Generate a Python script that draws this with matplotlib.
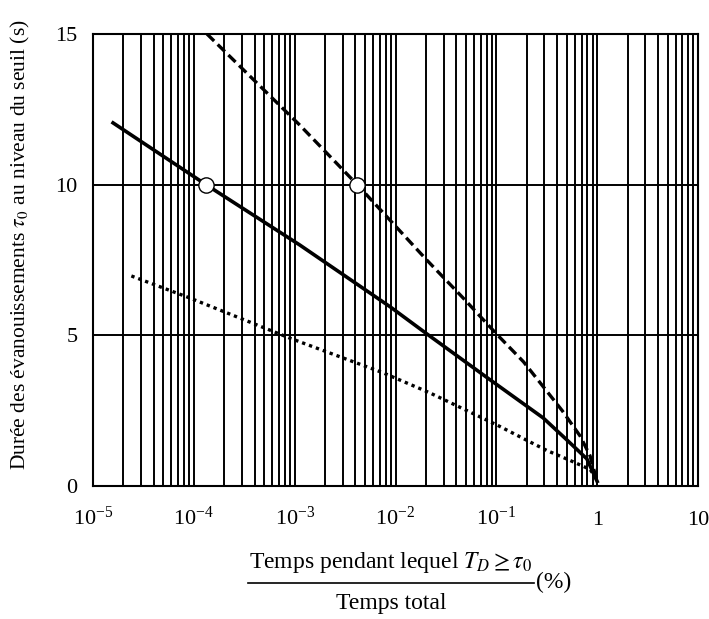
import matplotlib
matplotlib.use("Agg")
import matplotlib.pyplot as plt
from matplotlib.ticker import FixedLocator, LogLocator, NullFormatter
from matplotlib.lines import Line2D
import numpy as np

plt.rcParams['font.family'] = ['Liberation Serif', 'DejaVu Serif']
plt.rcParams['mathtext.fontset'] = 'stix'

# data (x in %, y in s)
solid_x = [1.58e-5, 1.32e-4, 1.12e-3, 8.9e-3, 2.04e-2, 8.7e-2, 0.291, 0.50, 0.79, 1.0]
solid_y = [12.05, 10.0, 8.0, 5.94, 5.05, 3.52, 2.26, 1.53, 0.90, 0.15]

dashed_x = [1.35e-4, 1.12e-3, 4.17e-3, 2.04e-2, 4.9e-2, 0.10, 0.186, 0.291, 0.45, 0.68, 0.85, 1.0]
dashed_y = [15.0, 11.98, 10.0, 7.5, 6.17, 5.05, 4.12, 3.3, 2.5, 1.65, 1.0, 0.15]

dotted_x = [2.4e-5, 9.1e-5, 8.9e-4, 7.6e-3, 2.19e-2, 0.102, 0.216, 0.316, 0.537, 0.85, 1.0]
dotted_y = [6.97, 6.24, 4.91, 3.75, 3.09, 2.02, 1.46, 1.18, 0.85, 0.55, 0.20]

marker_x = [1.32e-4, 4.17e-3]
marker_y = [10.0, 10.0]

x_ticks = [1e-5, 1e-4, 1e-3, 1e-2, 1e-1, 1, 10]
x_ticklabels = [r'$\mathdefault{10^{-5}}$', r'$\mathdefault{10^{-4}}$', r'$\mathdefault{10^{-3}}$',
                r'$\mathdefault{10^{-2}}$', r'$\mathdefault{10^{-1}}$', '1', '10']
y_ticks = [0, 5, 10, 15]

fig = plt.figure(figsize=(7.09, 6.19), dpi=100)
ax = fig.add_axes([0.1312, 0.2149, 0.8533, 0.7302])

ax.set_xscale('log')
ax.set_xlim(1e-5, 10)
ax.set_ylim(0, 15)
ax.xaxis.set_major_locator(FixedLocator(x_ticks))
ax.set_xticklabels(x_ticklabels)
ax.xaxis.set_minor_locator(LogLocator(base=10, subs=np.arange(2, 10)))
ax.xaxis.set_minor_formatter(NullFormatter())
ax.set_yticks(y_ticks)

ax.grid(which='both', axis='x', color='black', lw=1.4)
ax.grid(which='major', axis='y', color='black', lw=1.4)
ax.tick_params(which='both', length=0, labelsize=16)
ax.tick_params(axis='x', pad=28)
ax.tick_params(axis='y', pad=11)
for lab in ax.get_xticklabels():
    lab.set_va('baseline')
for s in ax.spines.values():
    s.set_linewidth(1.5)

ax.plot(solid_x, solid_y, color='black', lw=2.6, zorder=3)
ax.plot(dashed_x, dashed_y, color='black', lw=2.4, dashes=(3.0, 1.5), zorder=3)
ax.plot(dotted_x, dotted_y, color='black', lw=2.4, dashes=(1.0, 1.2), zorder=3)
ax.plot(marker_x, marker_y, 'o', ms=11, mfc='white', mec='black', mew=1.0, zorder=4)

fig.text(20 / 709, 1 - 245 / 619,
         r'Durée des évanouissements $\tau_0$ au niveau du seuil (s)',
         rotation=90, ha='center', va='center', fontsize=15.5)

# x label drawn as a fraction: numerator, bar, denominator, then (%)
fig.text(391 / 709, 1 - 568 / 619, r'Temps pendant lequel $T_D \geq \tau_0$',
         ha='center', va='baseline', fontsize=17)
fig.add_artist(Line2D([248 / 709, 534 / 709], [1 - 583 / 619, 1 - 583 / 619],
                      color='black', lw=1.2, transform=fig.transFigure))
fig.text(391 / 709, 1 - 609 / 619, 'Temps total', ha='center', va='baseline', fontsize=17)
fig.text(554 / 709, 1 - 582 / 619, '(%)', ha='center', va='center', fontsize=17)

fig.savefig('out.png', dpi=100)
